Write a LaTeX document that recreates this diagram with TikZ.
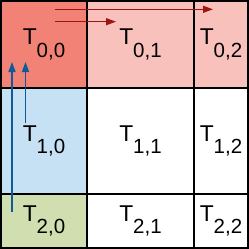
\documentclass[tikz,border=0pt]{standalone}
\usepackage{fontspec}
\setmainfont{Liberation Sans}
\usetikzlibrary{arrows.meta,positioning}
\definecolor{tilered}{RGB}{243,130,118}
\definecolor{tilepink}{RGB}{249,193,188}
\definecolor{tileblue}{RGB}{198,224,244}
\definecolor{tilegreen}{RGB}{209,223,176}
\definecolor{rowarrow}{RGB}{160,20,15}
\definecolor{colarrow}{RGB}{15,90,155}
\newcommand{\tilelabel}[2]{T\raisebox{-11pt}{\fontsize{17.5}{17.5}\selectfont #1,#2}}

\begin{document}
\begin{tikzpicture}[x=0.03cm, y=-0.03cm,
    cell/.style={draw, line width=1.3pt, inner sep=0pt, font=\fontsize{19.5}{19.5}\selectfont},
    wideA/.style={minimum width=2.58cm}, wideB/.style={minimum width=3.21cm}, wideC/.style={minimum width=1.62cm},
    highA/.style={minimum height=2.61cm}, highB/.style={minimum height=3.18cm}, highC/.style={minimum height=1.62cm},
    sweep/.style={line width=1.1pt, -{Triangle[length=0.3cm, width=0.21cm]}}]
    \useasboundingbox (0,0) rectangle (249,249);
    % tile grid
    \node[cell, wideA, highA, fill=tilered] (t00) at (44,44.5) {\tilelabel{0}{0}};
    \node[cell, wideB, highA, fill=tilepink] (t01) at (140.5,44.5) {\tilelabel{0}{1}};
    \node[cell, wideC, highA, fill=tilepink] (t02) at (221,44.5) {\tilelabel{0}{2}};
    \node[cell, wideA, highB, fill=tileblue] (t10) at (44,141) {\tilelabel{1}{0}};
    \node[cell, wideB, highB] (t11) at (140.5,141) {\tilelabel{1}{1}};
    \node[cell, wideC, highB] (t12) at (221,141) {\tilelabel{1}{2}};
    \node[cell, wideA, highC, fill=tilegreen] (t20) at (44,221) {\tilelabel{2}{0}};
    \node[cell, wideB, highC] (t21) at (140.5,221) {\tilelabel{2}{1}};
    \node[cell, wideC, highC] (t22) at (221,221) {\tilelabel{2}{2}};
    % sweep arrows
    \coordinate (r1s) at (55,9.3);   \coordinate (r1e) at (213,9.3);
    \coordinate (r2s) at (55,21.7);  \coordinate (r2e) at (116,21.7);
    \coordinate (c1s) at (12,212);   \coordinate (c1e) at (12,62);
    \coordinate (c2s) at (25.5,123); \coordinate (c2e) at (25.5,62);
    \draw[sweep, rowarrow] (r1s) -- (r1e);
    \draw[sweep, rowarrow] (r2s) -- (r2e);
    \draw[sweep, colarrow] (c1s) -- (c1e);
    \draw[sweep, colarrow] (c2s) -- (c2e);
\end{tikzpicture}
\end{document}
